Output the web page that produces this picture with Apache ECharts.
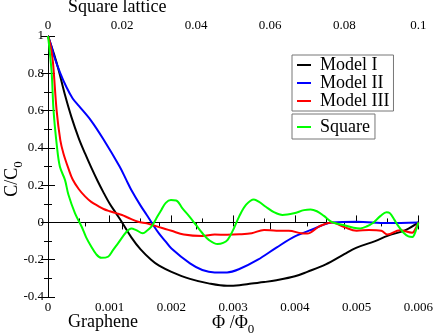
<!DOCTYPE html>
<html>
<head>
<meta charset="utf-8">
<script src="https://cdn.jsdelivr.net/npm/echarts@6/dist/echarts.min.js"></script>
<style>
  html, body { margin: 0; padding: 0; background: #fff; }
  #chart { width: 436px; height: 336px; }
</style>
</head>
<body>
<div id="chart"></div>
<script>
// graphene curves, bottom axis (Phi/Phi0)
var model1 = [[0,1],[0.00005,0.95],[0.0001,0.9],[0.00017,0.82],[0.00027,0.69],[0.00038,0.565],[0.0005,0.45],
  [0.0006,0.37],[0.0007,0.295],[0.0008,0.225],[0.0009,0.16],[0.001,0.1],[0.0011,0.05],[0.0012,0],[0.00135,-0.08],
  [0.0015,-0.145],[0.00167,-0.2],[0.0018,-0.232],[0.002,-0.265],[0.0023,-0.303],[0.0026,-0.327],[0.0029,-0.34],
  [0.0031,-0.337],[0.0033,-0.328],[0.0035,-0.32],[0.0037,-0.31],[0.004,-0.289],[0.0042,-0.265],[0.0045,-0.225],
  [0.0048,-0.17],[0.005,-0.135],[0.0053,-0.1],[0.0055,-0.072],[0.0058,-0.04],[0.006,0]];

var model2 = [[0,1],[0.00006,0.94],[0.0001,0.89],[0.0002,0.8],[0.0003,0.725],[0.0004,0.665],[0.0005,0.625],
  [0.0007,0.545],[0.0009,0.445],[0.00116,0.3],[0.00127,0.227],[0.00135,0.174],[0.0015,0.09],[0.0016,0.04],
  [0.0017,-0.012],[0.0018,-0.06],[0.0019,-0.1],[0.002,-0.14],[0.0023,-0.22],
  [0.0025,-0.255],[0.0027,-0.268],[0.0029,-0.268],[0.0031,-0.25],[0.0034,-0.2],[0.0037,-0.135],[0.004,-0.075],
  [0.0043,-0.035],[0.0046,0],[0.005,0.003],[0.0055,-0.003],[0.006,0]];

var model3 = [[0,1],[0.00004,0.95],[0.00008,0.86],[0.00014,0.6],[0.0002,0.44],[0.00025,0.37],[0.00033,0.29],
  [0.0004,0.23],[0.0005,0.178],[0.0006,0.14],[0.0007,0.11],[0.0008,0.09],[0.0009,0.072],[0.001,0.06],
  [0.0011,0.05],[0.0012,0.04],[0.0013,0.025],[0.00146,0.004],[0.0016,-0.005],[0.0017,-0.015],[0.0018,-0.025],
  [0.0019,-0.035],[0.002,-0.045],[0.0022,-0.065],[0.0025,-0.073],[0.0027,-0.065],[0.0029,-0.066],
  [0.0031,-0.064],[0.0033,-0.058],[0.0035,-0.04],[0.0037,-0.045],[0.0039,-0.045],[0.0041,-0.058],
  [0.0042,-0.06],[0.0044,-0.02],[0.0046,0],[0.0048,-0.025],[0.005,-0.045],[0.0052,-0.04],[0.0054,-0.045],
  [0.0055,-0.065],[0.0057,-0.042],[0.0059,-0.055],[0.00596,-0.03],[0.006,0]];

// square lattice curve, top axis
var square = [[0,1],[0.0003,0.95],[0.001,0.8],[0.0015,0.6],[0.0024,0.41],[0.0032,0.3],[0.0046,0.227],
  [0.0055,0.15],[0.0073,0.049],[0.0091,-0.023],[0.0103,-0.08],[0.0117,-0.13],[0.013,-0.17],[0.0144,-0.19],
  [0.0162,-0.184],[0.0175,-0.15],[0.0189,-0.112],[0.0212,-0.05],[0.0225,-0.032],[0.0238,-0.041],
  [0.0256,-0.058],[0.0267,-0.045],[0.0279,-0.023],[0.0292,0.02],[0.0306,0.067],[0.0318,0.105],[0.0332,0.12],
  [0.0346,0.118],[0.0363,0.075],[0.0382,0.031],[0.04,-0.015],[0.0417,-0.058],[0.0435,-0.095],[0.0458,-0.116],
  [0.0473,-0.11],[0.0485,-0.094],[0.05,-0.04],[0.0516,0.031],[0.0535,0.095],[0.0556,0.123],[0.057,0.11],
  [0.0588,0.084],[0.061,0.055],[0.0633,0.04],[0.0664,0.049],[0.0691,0.066],[0.0709,0.07],[0.0726,0.06],
  [0.0745,0.035],[0.0767,0.002],[0.0798,-0.014],[0.0825,-0.028],[0.0843,-0.032],[0.086,-0.022],[0.0879,0],
  [0.0898,0.035],[0.0914,0.055],[0.0923,0.05],[0.0935,0.015],[0.0946,-0.02],[0.096,-0.055],[0.0973,-0.075],
  [0.0984,-0.078],[0.0992,-0.05],[0.1,0]];

var seriesNames = ['Model I', 'Model II', 'Model III', 'Square'];

var chart = echarts.init(document.getElementById('chart'));
var font = 'Liberation Serif';

function tickAxis(extra) {
  var ax = {
    type: 'value',
    axisLine: { show: true, lineStyle: { color: '#000', width: 1 } },
    axisTick: { show: true, inside: true, length: 7, lineStyle: { color: '#000' } },
    minorTick: { show: true, splitNumber: 2, length: 4, lineStyle: { color: '#000' } },
    splitLine: { show: false },
    axisLabel: { color: '#000', fontFamily: font, fontSize: 13, margin: 4 }
  };
  for (var k in extra) ax[k] = extra[k];
  return ax;
}

function line(name, data, color, xi) {
  return {
    type: 'line', name: name, data: data, xAxisIndex: xi,
    showSymbol: false, smooth: 0.35,
    lineStyle: { color: color, width: 2 }, itemStyle: { color: color }
  };
}

var option = {
  animation: false,
  backgroundColor: '#fff',
  grid: { left: 48, right: 16, top: 36, bottom: 39 },
  xAxis: [
    tickAxis({ position: 'bottom', min: 0, max: 0.006, interval: 0.001 }),
    tickAxis({ position: 'top', min: 0, max: 0.1, interval: 0.02 })
  ],
  yAxis: [
    tickAxis({ position: 'left', min: -0.4, max: 1, interval: 0.2 }),
    tickAxis({ position: 'right', min: -0.4, max: 1, interval: 0.2, axisLabel: { show: false } })
  ],
  legend: [
    {
      data: seriesNames.slice(0, 3), orient: 'vertical', left: 292, top: 55,
      icon: 'rect', itemWidth: 14, itemHeight: 2, itemGap: 0,
      padding: [1, 4, 1, 5], borderColor: '#777', borderWidth: 1,
      textStyle: { fontFamily: font, fontSize: 18, lineHeight: 17.5, color: '#000', padding: [0, 0, 0, 4] }
    },
    {
      data: [seriesNames[3]], orient: 'vertical', left: 292, top: 114,
      icon: 'rect', itemWidth: 14, itemHeight: 2,
      padding: [4, 5, 3, 5], borderColor: '#777', borderWidth: 1,
      textStyle: { fontFamily: font, fontSize: 18, lineHeight: 17.5, color: '#000', padding: [0, 0, 0, 4] }
    }
  ],
  graphic: [
    { type: 'text', left: 68, top: -2, style: { text: 'Square lattice', font: '18px "Liberation Serif"', fill: '#000' } },
    { type: 'text', left: 68, top: 313, style: { text: 'Graphene', font: '18px "Liberation Serif"', fill: '#000' } },
    {
      type: 'text', left: 212, top: 310,
      style: {
        text: '\u03A6 /\u03A6{s|0}', fill: '#000',
        font: '18px "Liberation Serif"', lineHeight: 26,
        rich: { s: { fontFamily: font, fontSize: 13, lineHeight: 12, verticalAlign: 'bottom' } }
      }
    },
    {
      type: 'text', x: 12, y: 179, rotation: Math.PI / 2,
      style: {
        text: 'C/C{s|0}', fill: '#000', align: 'center', verticalAlign: 'middle',
        font: '18px "Liberation Serif"', lineHeight: 26,
        rich: { s: { fontFamily: font, fontSize: 13, lineHeight: 12, verticalAlign: 'bottom' } }
      }
    }
  ],
  series: [
    line(seriesNames[0], model1, '#000000', 0),
    line(seriesNames[1], model2, '#0000ff', 0),
    line(seriesNames[2], model3, '#ff0000', 0),
    line(seriesNames[3], square, '#00ff00', 1)
  ]
};

chart.setOption(option);
</script>
</body>
</html>
